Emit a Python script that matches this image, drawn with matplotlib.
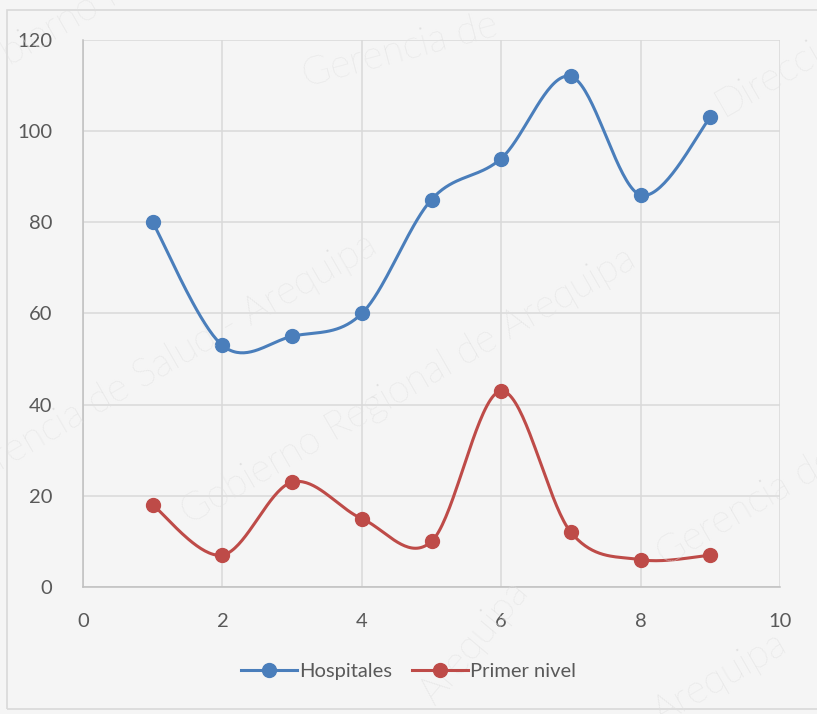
import numpy as np
import matplotlib
matplotlib.use("Agg")
import matplotlib.pyplot as plt
from matplotlib.patches import Rectangle
from matplotlib.lines import Line2D

x_vals = [1, 2, 3, 4, 5, 6, 7, 8, 9]
hospitales = [80, 53, 55, 60, 85, 94, 112, 86, 103]
primer_nivel = [18, 7, 23, 15, 10, 43, 12, 6, 7]
series_names = ["Hospitales", "Primer nivel"]
colors = ["#4a7ebb", "#be4b48"]

plt.rcParams['font.family'] = ['Lato', 'DejaVu Sans']


def smooth(xs, ys, n=40):
    xs = np.asarray(xs, float); ys = np.asarray(ys, float)
    P = np.column_stack([xs, ys])
    out = []
    for i in range(len(P) - 1):
        p0 = P[i - 1] if i > 0 else P[i]
        p1 = P[i]; p2 = P[i + 1]
        p3 = P[i + 2] if i + 2 < len(P) else P[i + 1]
        c1 = p1 + (p2 - p0) / 6.0
        c2 = p2 - (p3 - p1) / 6.0
        t = np.linspace(0, 1, n)[:, None]
        seg = ((1 - t) ** 3) * p1 + 3 * ((1 - t) ** 2) * t * c1 + 3 * (1 - t) * t ** 2 * c2 + t ** 3 * p2
        out.append(seg if i == 0 else seg[1:])
    s = np.vstack(out)
    return s[:, 0], s[:, 1]


fig = plt.figure(figsize=(8.17, 7.14), dpi=100)
fig.patch.set_facecolor("#f5f5f5")
fig.patches.append(Rectangle((7 / 817, 1 - 709 / 714), 1.0, (709 - 10) / 714,
                             transform=fig.transFigure, fill=False,
                             edgecolor="#d9d9d9", linewidth=1.2, zorder=0))

ax = fig.add_axes([83 / 817, 1 - 587 / 714, 697 / 817, 547 / 714])
ax.set_facecolor("#f5f5f5")
ax.set_xlim(0, 10)
ax.set_ylim(0, 120)
ax.set_xticks(range(0, 11, 2))
ax.set_yticks(range(0, 121, 20))
ax.grid(True, color="#d9d9d9", linewidth=1.1)
ax.set_axisbelow(True)
for s in ["top", "right"]:
    ax.spines[s].set_visible(False)
for s in ["left", "bottom"]:
    ax.spines[s].set_color("#bfbfbf")
    ax.spines[s].set_linewidth(1.1)
ax.tick_params(length=0, labelsize=14.5, labelcolor="#595959")
ax.tick_params(axis="y", pad=22)
ax.tick_params(axis="x", pad=19)

# watermarks (faint, as in the reference)
wm = dict(color="#e0e0e0", fontsize=28, transform=fig.transFigure, zorder=0.5,
          ha="center", va="center", fontweight="light")
fig.text(0.50, 0.46, "Gobierno Regional de Arequipa", rotation=30, **wm)
fig.text(0.20, 0.49, "Gerencia de Salud - Arequipa", rotation=30, **wm)
fig.text(0.93, 0.30, "Gerencia de S", rotation=30, **wm)
fig.text(0.94, 0.89, "Direcci", rotation=30, **wm)
fig.text(0.49, 0.93, "Gerencia de", rotation=15, **wm)
fig.text(0.58, 0.10, "Arequipa", rotation=50, **wm)
fig.text(0.88, 0.05, "Arequipa", rotation=30, **wm)
fig.text(0.08, 0.97, "bierno R", rotation=30, **wm)

for ys, c in zip([hospitales, primer_nivel], colors):
    sx, sy = smooth(x_vals, ys)
    ax.plot(sx, sy, color=c, linewidth=2.2, solid_capstyle="round", zorder=3)
    ax.plot(x_vals, ys, "o", color=c, markersize=10, zorder=4)

handles = [Line2D([0], [0], color=c, linewidth=2.2, marker="o", markersize=10) for c in colors]
fig.legend(handles, series_names, loc="center", bbox_to_anchor=(0.5, 1 - 671 / 714),
           ncol=2, frameon=False, fontsize=14.5, handlelength=2.8, handletextpad=0.1,
           columnspacing=1.0, labelcolor="#595959")

fig.savefig("out.png", dpi=100, facecolor=fig.get_facecolor())
